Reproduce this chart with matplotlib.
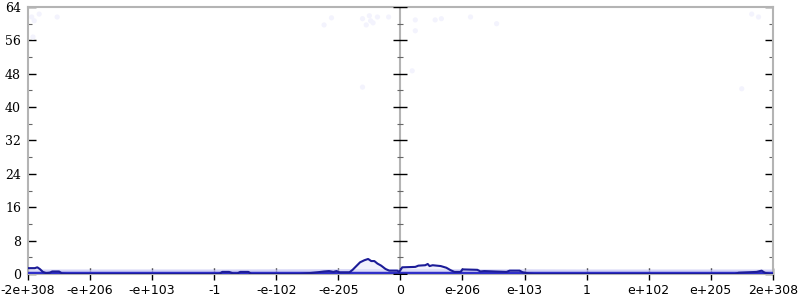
import matplotlib
matplotlib.use("Agg")
import matplotlib.pyplot as plt

# x positions are in "tick units": each labelled tick is one step
xTickPos = [-6, -5, -4, -3, -2, -1, 0, 1, 2, 3, 4, 5, 6]
xTickLabels = ['-2e+308', '-e+206', '-e+103', '-1', '-e-102', '-e-205', '0',
               'e-206', 'e-103', '1', 'e+102', 'e+205', '2e+308']
yTicks = [0, 8, 16, 24, 32, 40, 48, 56, 64]
yMinor = [4, 12, 20, 28, 36, 44, 52, 60]

# main line (dark blue)
lineX = [-6.0, -5.89, -5.85, -5.81, -5.76, -5.71, -5.65, -5.61, -5.5, -5.45, -5.37,
         -2.92, -2.87, -2.76, -2.69, -2.63, -2.58, -2.45, -2.40,
         -1.63, -1.47, -1.34, -1.23, -1.15, -1.08, -1.03, -0.98, -0.82, -0.77,
         -0.71, -0.65, -0.58, -0.52, -0.47, -0.42, -0.37, -0.31, -0.24, -0.18,
         -0.05, -0.02, 0.03, 0.24, 0.29, 0.40, 0.44, 0.47, 0.52, 0.65, 0.74,
         0.81, 0.87, 0.97, 1.00, 1.24, 1.29, 1.35, 1.52, 1.71, 1.76, 1.92,
         1.97, 2.08, 2.16, 5.39, 5.45, 5.60, 5.74, 5.82, 5.87, 5.95, 6.0]
lineY = [1.4, 1.4, 1.6, 1.2, 0.5, 0.2, 0.3, 0.6, 0.6, 0.1, 0.0,
         0.0, 0.5, 0.5, 0.1, 0.1, 0.5, 0.5, 0.0,
         0.0, 0.2, 0.4, 0.6, 0.7, 0.5, 0.7, 0.4, 0.4, 1.0,
         1.9, 2.8, 3.3, 3.6, 3.1, 3.1, 2.5, 2.0, 1.2, 0.8,
         0.8, 0.5, 1.6, 1.7, 2.0, 2.1, 2.4, 1.9, 2.1, 1.9, 1.5,
         0.9, 0.5, 0.5, 1.1, 1.0, 0.6, 0.7, 0.6, 0.5, 0.8, 0.8,
         0.4, 0.1, 0.0, 0.0, 0.3, 0.4, 0.5, 0.8, 0.3, 0.0, 0.0]

# light band of samples near zero
bandX = [-6, -3, 0, 3, 6]
bandTop = [1.2, 1.2, 1.3, 1.2, 1.2]

# faint outlier samples
faintX = [-5.94, -5.82, -5.9, -5.53, -5.92, -1.11, -1.23, -0.61, -0.5, -0.48,
          -0.55, -0.44, -0.37, -0.19, 0.24, 0.24, 0.56, 0.66, 1.13, 1.55,
          0.19, -0.61, 5.66, 5.77, 5.5]
faintY = [61.6, 62.3, 60.7, 61.6, 56.8, 61.4, 59.7, 61.2, 61.9, 60.7,
          59.7, 60.2, 61.6, 61.6, 60.9, 58.3, 60.9, 61.2, 61.6, 60.0,
          48.7, 44.8, 62.3, 61.6, 44.4]

fig = plt.figure(figsize=(8, 3), dpi=100)
ax = fig.add_axes([0.035, 0.0867, 0.931, 0.89])

grey = '#b4b4b4'
for s in ['left', 'top', 'right', 'bottom']:
    ax.spines[s].set_color(grey)
    ax.spines[s].set_linewidth(1.5)
ax.axvline(0, color=grey, lw=1.5, zorder=1)

ax.scatter(faintX, faintY, s=14, color='#f3f3fd', edgecolors='none', zorder=2)
ax.fill_between(bandX, 0, bandTop, color='#cacaf4', alpha=0.8, lw=0, zorder=2)
ax.fill_between(lineX, 0, lineY, color='#e4e4fa', alpha=0.5, lw=0, zorder=2)
ax.axhline(0.25, color='#3030c8', lw=2.5, zorder=3)
ax.plot(lineX, lineY, color='#1c1c98', lw=1.5, zorder=4)

# ticks on the middle axis
ax.plot([0] * len(yTicks), yTicks, ls='none', marker='_', markersize=10,
        markeredgewidth=1.0, color='black', zorder=5)
ax.plot([0] * len(yMinor), yMinor, ls='none', marker='_', markersize=5,
        markeredgewidth=0.8, color='#666666', zorder=5)

ax.set_xlim(-6, 6)
ax.set_ylim(0, 64)
ax.set_xticks(xTickPos)
ax.set_xticklabels(xTickLabels, fontsize=9, family='DejaVu Sans')
ax.set_yticks(yTicks)
ax.set_yticklabels([str(v) for v in yTicks], fontsize=9, family='DejaVu Serif')
ax.set_yticks(yMinor, minor=True)

ax.tick_params(axis='x', direction='inout', length=8, width=1.0, pad=3, colors='black')
ax.tick_params(axis='y', which='major', direction='in', length=6, width=1.0,
               right=True, pad=5)
ax.tick_params(axis='y', which='minor', direction='in', length=3, width=0.8,
               right=True, color='#666666')

fig.savefig('out.png', dpi=100)
